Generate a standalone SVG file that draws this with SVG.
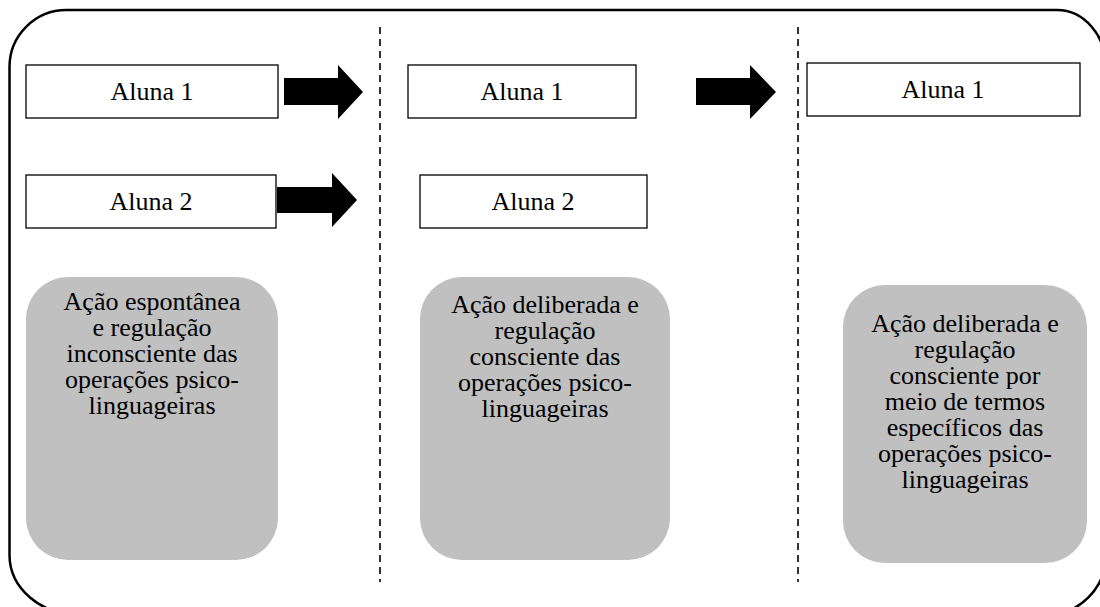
<svg xmlns="http://www.w3.org/2000/svg" width="1100" height="607" viewBox="0 0 1100 607">
<style>
.frame{fill:none;stroke:#000;stroke-width:2.5}
.box{fill:#fff;stroke:#000;stroke-width:1.3}
.gbox{fill:#c0c0c0;stroke:none}
.t{font-family:"Liberation Serif","Times New Roman",serif;font-size:26px;fill:#000;text-anchor:middle}
.dash{stroke:#000;stroke-width:1.6;stroke-dasharray:7 5;fill:none}
.arrow{fill:#000}
</style>
<rect width="1100" height="607" fill="#fff"/>
<path class="frame" d="M67,10 H1057 A49,57 0 0 1 1106,67 V555 A60,60 0 0 1 1046,615 H79.5 A70,60 0 0 1 9.5,555 V67 A57,57 0 0 1 67,10 Z"/>
<g id="dividers">
<line class="dash" x1="380" y1="27" x2="380" y2="582"/>
<line class="dash" x1="798" y1="27" x2="798" y2="582"/>
</g>
<g id="c1a1"><rect class="box" x="26" y="65" width="252" height="53"/><text class="t" x="152" y="100">Aluna 1</text></g>
<g id="c1a2"><rect class="box" x="26" y="175" width="250" height="53"/><text class="t" x="151" y="210">Aluna 2</text></g>
<g id="c2a1"><rect class="box" x="408" y="65" width="228" height="53"/><text class="t" x="522" y="100">Aluna 1</text></g>
<g id="c2a2"><rect class="box" x="420" y="175" width="227" height="53"/><text class="t" x="533" y="210">Aluna 2</text></g>
<g id="c3a1"><rect class="box" x="807" y="63" width="273" height="53"/><text class="t" x="943" y="98">Aluna 1</text></g>
<g id="connectors">
<polygon class="arrow" points="284,78 338,78 338,65 363,92 338,119 338,105 284,105"/>
<polygon class="arrow" points="277,187 332,187 332,173 357,200 332,227 332,213 277,213"/>
<polygon class="arrow" points="696,78 750,78 750,65 776,92 750,119 750,105 696,105"/>
</g>
<g id="g1"><rect class="gbox" x="26" y="277" width="252" height="283" rx="42"/>
<text class="t"><tspan x="152" y="310">Ação espontânea</tspan><tspan x="152" y="336">e regulação</tspan><tspan x="152" y="362">inconsciente das</tspan><tspan x="152" y="388">operações psico-</tspan><tspan x="152" y="414">linguageiras</tspan></text></g>
<g id="g2"><rect class="gbox" x="420" y="277" width="250" height="283" rx="42"/>
<text class="t"><tspan x="545" y="313">Ação deliberada e</tspan><tspan x="545" y="339">regulação</tspan><tspan x="545" y="365">consciente das</tspan><tspan x="545" y="391">operações psico-</tspan><tspan x="545" y="417">linguageiras</tspan></text></g>
<g id="g3"><rect class="gbox" x="843" y="285" width="244" height="278" rx="42"/>
<text class="t"><tspan x="965" y="332">Ação deliberada e</tspan><tspan x="965" y="358">regulação</tspan><tspan x="965" y="384">consciente por</tspan><tspan x="965" y="410">meio de termos</tspan><tspan x="965" y="436">específicos das</tspan><tspan x="965" y="462">operações psico-</tspan><tspan x="965" y="488">linguageiras</tspan></text></g>
</svg>
